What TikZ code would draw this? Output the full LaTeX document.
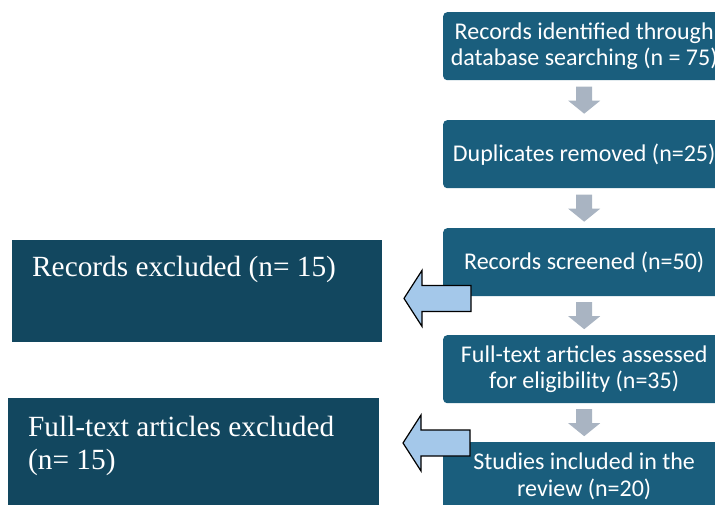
\documentclass[tikz,border=0pt]{standalone}
\usepackage{fontspec}
\setmainfont{Liberation Serif}
\newfontfamily\boxfont{Carlito}
\usetikzlibrary{calc}
\definecolor{rbox}{HTML}{1A5E7D}
\definecolor{lbox}{HTML}{12475F}
\definecolor{garr}{HTML}{A9B4C2}
\definecolor{barr}{HTML}{A4C8EA}
\tikzset{
  stepbox/.style={fill=rbox, rounded corners=4pt, minimum width=282pt, minimum height=68pt, inner sep=0pt, text=white, align=center, font=\boxfont\fontsize{24}{26.5}\selectfont},
  exbox/.style={fill=lbox, inner sep=0pt},
  extext/.style={anchor=north west, inner sep=0pt, text=white, align=left, font=\fontsize{29.3}{33}\selectfont},
  grayarr/.style={fill=garr},
  bluearr/.style={fill=barr, draw=black, line width=1.2pt, line join=miter},
}
\begin{document}
\begin{tikzpicture}[x=1pt,y=-1pt]
\useasboundingbox (0,0) rectangle (715,505);
\clip (0,0) rectangle (715,505);
% right column
\node[stepbox, anchor=north west] (r1) at (443,12) {Records identified through\\database searching (n = 75)};
\node[stepbox, anchor=north west] (r2) at (443,120) {Duplicates removed (n=25)};
\node[stepbox, anchor=north west] (r3) at (443,228) {Records screened (n=50)};
\node[stepbox, anchor=north west] (r4) at (443,335) {Full-text articles assessed\\for eligibility (n=35)};
\node[stepbox, anchor=north west] (r5) at (443,442) {Studies included in the\\review (n=20)};
% left boxes
\node[exbox, anchor=north west, minimum width=370pt, minimum height=102pt] (e1) at (12,240) {};
\node[extext] (t1) at ([shift={(20,16)}]e1.north west) {Records excluded (n= 15)};
\node[exbox, anchor=north west, minimum width=371pt, minimum height=110pt] (e2) at (8,398) {};
\node[extext] (t2) at ([shift={(20,18)}]e2.north west) {Full-text articles excluded\\(n= 15)};
% gray down arrows
\foreach \a/\b/\n in {r1/r2/g1, r2/r3/g2, r3/r4/g3, r4/r5/g4}{
  \coordinate (\n) at ($(\a.south)!0.5!(\b.north)$);
  \fill[grayarr] ([shift={(-8,-13.5)}]\n) -- ([shift={(8,-13.5)}]\n) -- ([shift={(8,0.5)}]\n) -- ([shift={(16,0.5)}]\n) -- ([shift={(0,13.5)}]\n) -- ([shift={(-16,0.5)}]\n) -- ([shift={(-8,0.5)}]\n) -- cycle;
}
% blue left arrows
\coordinate (b1) at ([shift={(-39,2)}]r3.south west);
\coordinate (b2) at ([shift={(-40,1)}]r5.north west);
\foreach \n in {b1,b2}{
  \draw[bluearr] (\n) -- ([shift={(18,-28)}]\n) -- ([shift={(18,-13)}]\n) -- ([shift={(67,-13)}]\n) -- ([shift={(67,13)}]\n) -- ([shift={(18,13)}]\n) -- ([shift={(18,28)}]\n) -- cycle;
}
\end{tikzpicture}
\end{document}
